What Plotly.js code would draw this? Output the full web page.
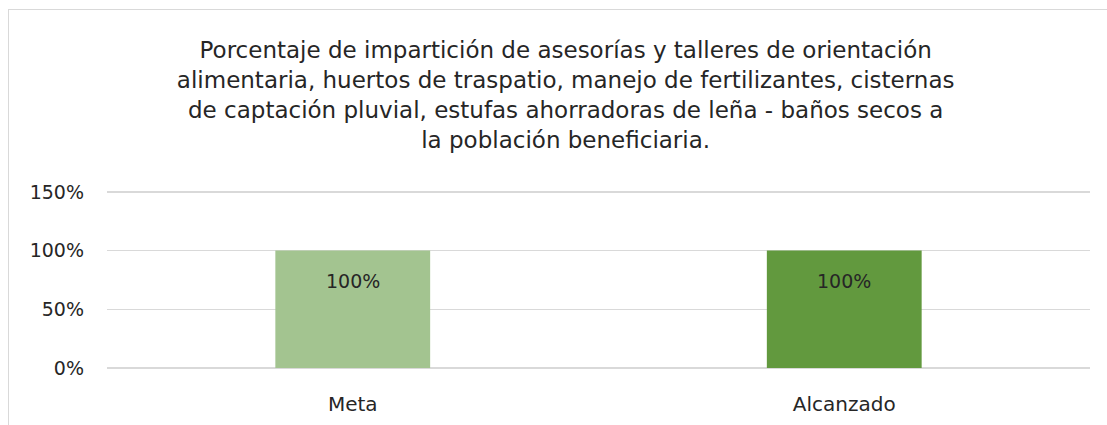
<!DOCTYPE html>
<html>
<head>
<meta charset="utf-8">
<script src="https://cdn.plot.ly/plotly-3.0.1.min.js"></script>
<style>
html,body{margin:0;padding:0;background:#fff;}
#wrap{position:relative;width:1107px;height:425px;overflow:hidden;}
#chart{width:1107px;height:425px;}
#frame{position:absolute;left:8px;top:9px;width:1200px;height:600px;border-left:1px solid #d9d9d9;border-top:1px solid #d9d9d9;pointer-events:none;}
</style>
</head>
<body>
<div id="wrap"><div id="chart"></div><div id="frame"></div></div>
<script>
const categories = ["Meta", "Alcanzado"];
const values = [1.0, 1.0];
const labels = ["100%", "100%"];
const barColors = ["#A3C490", "#62993E"];
const tickVals = [0, 0.5, 1.0, 1.5];
const tickText = ["0%", "50%", "100%", "150%"];
const titleText = "Porcentaje de impartición de asesorías y talleres de orientación<br>alimentaria, huertos de traspatio, manejo de fertilizantes, cisternas<br>de captación pluvial, estufas ahorradoras de leña - baños secos a<br>la población beneficiaria.";

const font = "DejaVu Sans, sans-serif";

const trace = {
  type: "bar",
  x: categories,
  y: values,
  marker: {color: barColors},
  width: 0.315,
  hoverinfo: "none"
};

const annotations = categories.map((c, i) => ({
  x: c, y: values[i], xref: "x", yref: "y",
  text: labels[i], showarrow: false, yshift: -30,
  font: {family: font, size: 19, color: "#262626"}
}));

const layout = {
  width: 1107, height: 425,
  margin: {l: 106.5, r: 16.5, t: 186, b: 57},
  paper_bgcolor: "#fff", plot_bgcolor: "#fff",
  showlegend: false,
  title: {
    text: titleText,
    x: 0.511, xanchor: "center",
    y: 0.863, yanchor: "middle",
    font: {family: font, size: 23, color: "#262626"}
  },
  xaxis: {
    type: "category",
    range: [-0.5, 1.5],
    showgrid: false, zeroline: false, showline: false,
    ticks: "", ticklabelstandoff: 22,
    tickfont: {family: font, size: 20, color: "#262626"}
  },
  yaxis: {
    range: [0, 1.55],
    tickvals: tickVals, ticktext: tickText,
    showgrid: true, gridcolor: "#d9d9d9", gridwidth: 1.5,
    zeroline: true, zerolinecolor: "#d9d9d9", zerolinewidth: 1.5,
    showline: false, ticks: "", ticklabelstandoff: 22,
    tickfont: {family: font, size: 19, color: "#262626"}
  },
  annotations: annotations
};

Plotly.newPlot("chart", [trace], layout, {staticPlot: true, displayModeBar: false});
</script>
</body>
</html>
